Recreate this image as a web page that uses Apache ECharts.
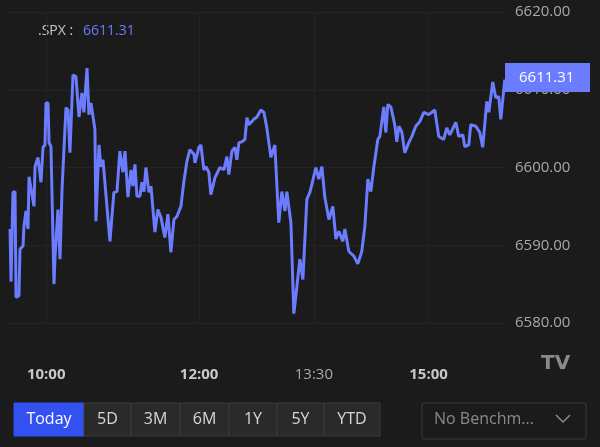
<!DOCTYPE html>
<html><head><meta charset="utf-8">
<script src="https://cdn.jsdelivr.net/npm/echarts@6/dist/echarts.min.js"></script>
<style>html,body{margin:0;padding:0;background:#1b1b1b}#c{width:600px;height:447px}</style>
</head><body><div id="c"></div>
<script>
// minutes since 09:30
const minutes = [1.6,2.4,3.9,5.5,6.3,8.6,9.4,11.8,12.5,14.1,15.7,16.5,17.3,20.4,21.2,23.5,25.9,27.5,29.0,29.8,31.4,32.2,33.7,36.1,36.9,39.2,40.8,42.4,45.5,47.1,48.6,51.0,53.3,55.7,58.0,59.6,62.0,63.5,65.1,68.2,69.0,71.4,72.9,74.5,80.0,83.1,85.5,87.8,90.2,91.8,94.1,96.5,98.0,99.6,101.2,103.5,105.1,106.7,108.2,110.6,112.2,115.3,117.6,120.0,123.1,125.5,127.8,130.2,132.5,135.7,138.0,140.4,142.7,145.9,146.7,149.8,151.4,153.7,155.3,157.6,159.2,162.4,166.3,169.4,171.8,173.3,175.7,178.0,179.6,181.2,183.5,185.9,187.5,189.0,192.9,195.3,198.4,200.8,203.1,206.3,209.4,212.5,214.9,217.3,218.8,222.0,224.3,226.7,229.0,231.4,234.5,236.9,238.4,241.6,243.9,246.3,248.6,251.8,254.9,257.3,259.6,262.7,264.3,267.5,271.4,274.5,277.6,280.0,282.4,284.7,287.1,290.2,291.8,294.9,296.5,298.0,300.4,303.5,305.1,306.7,309.0,311.4,314.5,316.9,320.0,323.1,326.3,330.2,334.9,338.0,341.9,344.3,346.7,351.4,353.7,356.9,358.4,361.6,363.1,367.1,370.2,372.5,375.7,377.3,380.4,382.7,385.1,386.7,389.8];
const prices = [6592.1,6585.3,6596.8,6596.9,6583.3,6583.5,6589.5,6589.9,6592.4,6594.4,6592.1,6598.8,6598.8,6595.0,6600.1,6601.3,6598.1,6602.6,6602.9,6608.3,6608.3,6603.2,6602.7,6585.0,6588.5,6594.6,6588.2,6597.2,6607.7,6607.4,6601.9,6611.9,6611.7,6606.5,6609.6,6607.1,6612.8,6606.8,6608.3,6604.9,6593.1,6602.9,6600.1,6601.0,6590.5,6596.8,6596.9,6602.1,6599.4,6602.1,6596.2,6599.7,6597.6,6600.4,6596.3,6596.3,6598.1,6596.9,6600.0,6596.8,6597.6,6591.7,6594.6,6593.6,6591.0,6594.0,6589.1,6593.3,6593.7,6595.0,6598.2,6600.8,6602.3,6601.7,6600.6,6602.6,6602.9,6599.7,6600.1,6599.4,6596.5,6598.7,6600.0,6599.7,6601.4,6599.1,6602.1,6602.6,6601.0,6603.2,6603.3,6603.6,6606.4,6605.5,6606.2,6606.5,6607.4,6607.1,6605.1,6601.3,6602.9,6592.9,6596.9,6594.4,6596.9,6592.9,6581.2,6584.7,6588.2,6585.6,6595.9,6596.8,6597.8,6600.0,6598.5,6600.1,6596.2,6593.3,6595.0,6590.8,6591.8,6590.5,6592.1,6589.2,6588.6,6587.6,6589.2,6592.4,6598.5,6596.9,6600.1,6603.6,6604.0,6607.8,6604.5,6608.1,6607.8,6605.5,6603.3,6605.3,6604.6,6601.9,6603.2,6604.0,6605.3,6605.9,6607.1,6606.8,6607.4,6604.0,6603.6,6605.1,6604.2,6605.8,6604.0,6604.2,6602.7,6602.9,6605.5,6605.3,6604.5,6602.6,6608.5,6607.1,6611.0,6609.0,6609.1,6606.2,6611.31];
const tickMinutes = [30,150,240,330];
const tickLabels = ['10:00','12:00','13:30','15:00'];
const tickBold = [true,true,false,true];
const symbol = '.SPX';
const lastPrice = 6611.31;
const ranges = ['Today','5D','3M','6M','1Y','5Y','YTD'];

const chart = echarts.init(document.getElementById('c'), null, {renderer:'canvas'});
const btnW = [70,47,49,49,48,47,56];
const graphics = [
  {type:'text', left:38, top:24, style:{text:symbol+' :', fill:'#c8c8c8', font:'14px "Open Sans"'}},
  {type:'text', left:83, top:24, style:{text:lastPrice.toFixed(2), fill:'#6b7cff', font:'14px "Open Sans"'}},
  {type:'text', left:541, top:354, style:{text:'TV', fill:'#8a8a8a', font:'bold 20px "DejaVu Sans"'}},
  {type:'rect', shape:{x:422,y:403,width:164,height:36,r:2}, style:{fill:'#1b1b1b', stroke:'#3a3a3a', lineWidth:1}},
  {type:'text', left:434, top:411, style:{text:'No Benchm...', fill:'#8a8a8a', font:'16px "Open Sans"'}},
  {type:'polyline', shape:{points:[[556,415],[563,422],[570,415]]}, style:{stroke:'#8a8a8a', lineWidth:1.5, fill:null}},
  {type:'rect', shape:{x:505,y:63,width:85,height:29}, style:{fill:'#6b7cff'}, z:10},
  {type:'text', x:519, y:78, style:{text:lastPrice.toFixed(2), fill:'#ffffff', font:'15px "Open Sans"', verticalAlign:'middle'}, z:11}
];
let bx = 14;
ranges.forEach((r,i)=>{
  const w = btnW[i];
  graphics.push({type:'rect', shape:{x:bx,y:403,width:w,height:33}, style:{fill:i===0?'#3350f0':'#2a2a2a', stroke:i===0?'#3350f0':'#3a3a3a', lineWidth:1}});
  graphics.push({type:'text', x:bx+w/2, y:419.5, style:{text:r, fill:i===0?'#ffffff':'#d8d8d8', font:'16px "Open Sans"', align:'center', verticalAlign:'middle'}});
  bx += w;
});

chart.setOption({
  backgroundColor:'#1b1b1b',
  animation:false,
  grid:{left:8, right:95, top:12, bottom:124},
  xAxis:{type:'value', min:0, max:390,
    axisLine:{show:false},
    axisTick:{show:false, customValues:tickMinutes},
    splitLine:{show:true, lineStyle:{color:'#242424'}},
    axisLabel:{customValues:tickMinutes, margin:44,
      formatter:v=>{const i=tickMinutes.indexOf(v); return tickBold[i]?'{b|'+tickLabels[i]+'}':'{n|'+tickLabels[i]+'}';},
      rich:{b:{color:'#c8c8c8',fontWeight:'bold',fontSize:15,fontFamily:'Open Sans'},n:{color:'#a8a8a8',fontSize:15,fontFamily:'Open Sans'}}}
  },
  yAxis:{type:'value', position:'right', min:6580, max:6620, interval:10,
    axisLine:{show:false}, axisTick:{show:false},
    splitLine:{lineStyle:{color:'#242424'}},
    axisLabel:{color:'#a8a8a8', fontSize:15, fontFamily:'Open Sans', margin:10, formatter:v=>v.toFixed(2)}},
  series:[{type:'line', data:minutes.map((m,i)=>[m,prices[i]]), showSymbol:false,
    lineStyle:{color:'#6b7cff', width:3}, itemStyle:{color:'#6b7cff'}}],
  graphic:graphics
});
</script></body></html>
